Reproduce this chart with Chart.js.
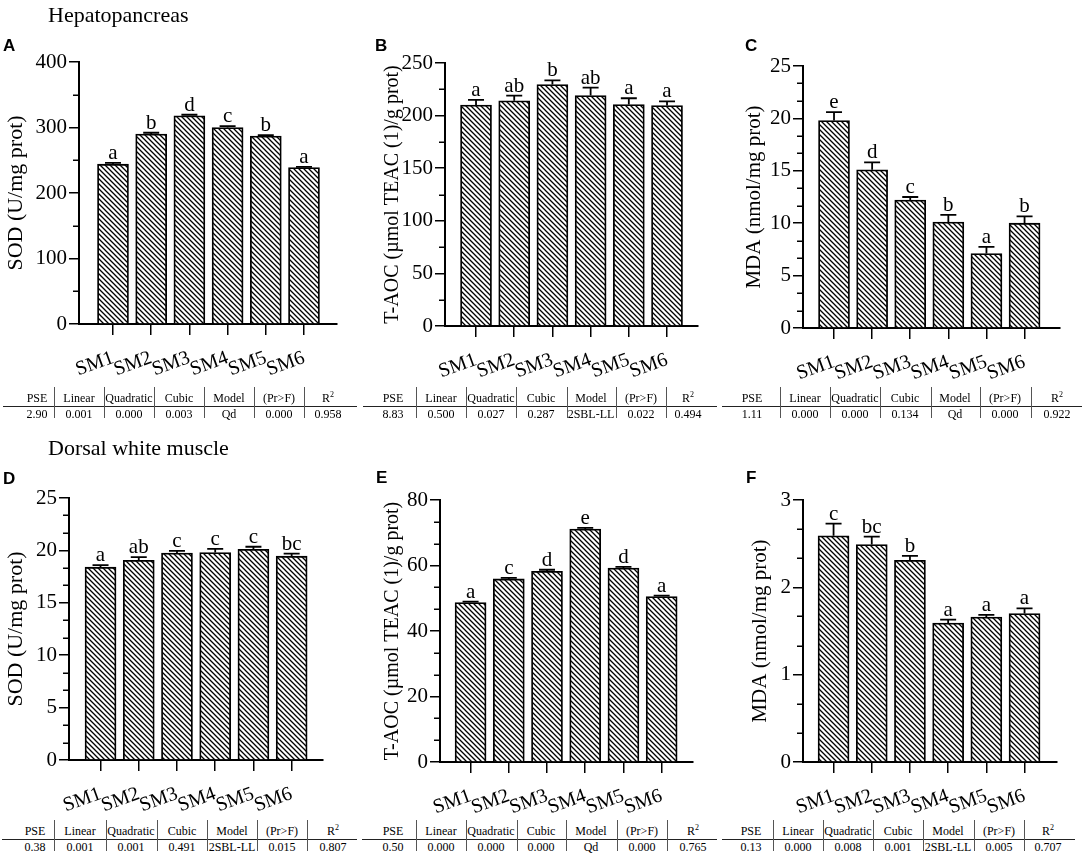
<!DOCTYPE html>
<html><head><meta charset="utf-8">
<script src="https://cdn.jsdelivr.net/npm/chart.js@4.4.1/dist/chart.umd.min.js"></script>
<style>
html,body{margin:0;padding:0;background:#fff;}
body{width:1084px;height:859px;position:relative;overflow:hidden;font-family:"Liberation Serif","Times New Roman",serif;color:#000;}
.lbl{position:absolute;font-family:"Liberation Sans",Arial,sans-serif;font-weight:bold;font-size:17px;line-height:17px;}
.sec{position:absolute;font-size:22px;line-height:22px;white-space:nowrap;}
.tt{position:absolute;font-size:12px;line-height:12px;transform:translate(-50%,-50%);white-space:nowrap;}
.tt sup{font-size:8px;line-height:0;vertical-align:5px;}
.hl{position:absolute;height:1px;background:#222;}
.vl{position:absolute;width:1px;background:#555;}
</style></head><body>
<script>
// ---------- DATA ----------
const categories = ['SM1','SM2','SM3','SM4','SM5','SM6'];

// A - Hepatopancreas SOD
const hepSOD = [244, 290, 318, 300, 287, 239];
const hepSODErr = [2, 2, 1.5, 2, 1.5, 1];
const hepSODLetters = ['a','b','d','c','b','a'];
const hepSODTicks = [0, 100, 200, 300, 400];

// B - Hepatopancreas T-AOC
const hepTAOC = [210, 214, 229.5, 219, 210.5, 209.5];
const hepTAOCErr = [5, 5, 4, 7.5, 6, 4];
const hepTAOCLetters = ['a','ab','b','ab','a','a'];
const hepTAOCTicks = [0, 50, 100, 150, 200, 250];

// C - Hepatopancreas MDA
const hepMDA = [19.8, 15.1, 12.2, 10.1, 7.1, 10.0];
const hepMDAErr = [0.8, 0.7, 0.3, 0.7, 0.65, 0.65];
const hepMDALetters = ['e','d','c','b','a','b'];
const hepMDATicks = [0, 5, 10, 15, 20, 25];

// D - Dorsal white muscle SOD
const musSOD = [18.4, 19.05, 19.75, 19.8, 20.1, 19.45];
const musSODErr = [0.2, 0.3, 0.2, 0.35, 0.25, 0.25];
const musSODLetters = ['a','ab','c','c','c','bc'];
const musSODTicks = [0, 5, 10, 15, 20, 25];

// E - Dorsal white muscle T-AOC
const musTAOC = [48.7, 55.9, 58.2, 71.1, 59.2, 50.5];
const musTAOCErr = [0.3, 0.3, 0.5, 0.4, 0.4, 0.3];
const musTAOCLetters = ['a','c','d','e','d','a'];
const musTAOCTicks = [0, 20, 40, 60, 80];

// F - Dorsal white muscle MDA
const musMDA = [2.59, 2.49, 2.31, 1.59, 1.66, 1.70];
const musMDAErr = [0.14, 0.09, 0.05, 0.04, 0.025, 0.06];
const musMDALetters = ['c','bc','b','a','a','a'];
const musMDATicks = [0, 1, 2, 3];

// statistics tables
const tableHeaders = ['PSE','Linear','Quadratic','Cubic','Model','(Pr>F)','R<sup>2</sup>'];
const statsA = ['2.90','0.001','0.000','0.003','Qd','0.000','0.958'];
const statsB = ['8.83','0.500','0.027','0.287','2SBL-LL','0.022','0.494'];
const statsC = ['1.11','0.000','0.000','0.134','Qd','0.000','0.922'];
const statsD = ['0.38','0.001','0.001','0.491','2SBL-LL','0.015','0.807'];
const statsE = ['0.50','0.000','0.000','0.000','Qd','0.000','0.765'];
const statsF = ['0.13','0.000','0.008','0.001','2SBL-LL','0.005','0.707'];

const titleSOD = 'SOD (U/mg prot)';
const titleTAOC = 'T-AOC (\u00B5mol TEAC (1)/g prot)';
const titleMDA = 'MDA (nmol/mg prot)';

// ---------- LAYOUT ----------
const panels = [
  {id:'A', x0:0,   y0:0,   w:360, h:385, area:[79,62,337,324],  xmin:0.11, xmax:6.864, values:hepSOD, err:hepSODErr, letters:hepSODLetters, ticks:hepSODTicks, minor:2, title:titleSOD, tpad:3, tsize:22},
  {id:'B', x0:360, y0:0,   w:360, h:385, area:[445,63,698,326], xmin:0.188, xmax:6.811, values:hepTAOC, err:hepTAOCErr, letters:hepTAOCLetters, ticks:hepTAOCTicks, minor:2, title:titleTAOC, tpad:21, tsize:20},
  {id:'C', x0:720, y0:0,   w:364, h:385, area:[803,66,1060,328], xmin:0.186, xmax:6.93, values:hepMDA, err:hepMDAErr, letters:hepMDALetters, ticks:hepMDATicks, minor:3, title:titleMDA, tpad:22, tsize:21},
  {id:'D', x0:0,   y0:430, w:360, h:388, area:[69,498,323,760],  xmin:0.175, xmax:6.82, values:musSOD, err:musSODErr, letters:musSODLetters, ticks:musSODTicks, minor:3, title:titleSOD, tpad:3, tsize:22},
  {id:'E', x0:360, y0:430, w:360, h:388, area:[440,500,693,762], xmin:0.2, xmax:6.82, values:musTAOC, err:musTAOCErr, letters:musTAOCLetters, ticks:musTAOCTicks, minor:3, title:titleTAOC, tpad:21, tsize:20},
  {id:'F', x0:720, y0:430, w:364, h:388, area:[803,500,1057,762], xmin:0.2, xmax:6.85, values:musMDA, err:musMDAErr, letters:musMDALetters, ticks:musMDATicks, minor:3, title:titleMDA, tpad:28, tsize:21}
];

const tables = [
  {stats:statsA, base:387, seps:[54,104,154,204,254,304], centers:[37,79,129,179,229,279,328], line:[3,357]},
  {stats:statsB, base:387, seps:[416,466,516,567,616,666], centers:[393,441,491,541,591,641,688], line:[363,717]},
  {stats:statsC, base:387, seps:[780,830,880,931,980,1031], centers:[752,805,855,905,955,1005,1057], line:[722,1082]},
  {stats:statsD, base:820, seps:[54,106,157,207,257,307], centers:[35,80,131,182,232,282,333], line:[2,357]},
  {stats:statsE, base:820, seps:[416,466,517,566,617,667], centers:[393,441,491,541,591,642,693], line:[362,717]},
  {stats:statsF, base:820, seps:[773,823,873,923,974,1024], centers:[751,798,848,898,948,999,1048], line:[722,1075]}
];

const SERIF = '"Liberation Serif","Times New Roman",serif';

// hatch tile
const TS = 5;
const tile = document.createElement('canvas');
tile.width = TS; tile.height = TS;
(function(){
  const g = tile.getContext('2d');
  g.fillStyle = '#fff'; g.fillRect(0,0,TS,TS);
  g.strokeStyle = '#000'; g.lineWidth = 1.3;
  g.beginPath();
  g.moveTo(-1,-1); g.lineTo(TS+1,TS+1);
  g.moveTo(-1,TS-1); g.lineTo(1,TS+1);
  g.moveTo(TS-1,-1); g.lineTo(TS+1,1);
  g.stroke();
})();

function makeExtras(cfg){
  return {
    id:'extras'+cfg.id,
    afterDatasetsDraw(chart){
      const ctx = chart.ctx, xs = chart.scales.x, ys = chart.scales.y, ca = chart.chartArea;
      ctx.save();
      // minor ticks
      ctx.strokeStyle = '#000'; ctx.lineWidth = 1.5;
      for (let k = 0; k < cfg.ticks.length - 1; k++) {
        const a = cfg.ticks[k], b = cfg.ticks[k+1];
        for (let m = 1; m < cfg.minor; m++) {
          const y = Math.round(ys.getPixelForValue(a + (b - a) * m / cfg.minor)) + 0.25;
          ctx.beginPath(); ctx.moveTo(ca.left - 6, y); ctx.lineTo(ca.left, y); ctx.stroke();
        }
      }
      // error bars and letters
      ctx.lineWidth = 1.8;
      ctx.fillStyle = '#000';
      ctx.font = '21px ' + SERIF;
      ctx.textAlign = 'center'; ctx.textBaseline = 'alphabetic';
      cfg.values.forEach((v, i) => {
        const x = xs.getPixelForValue(i + 1);
        const y0 = ys.getPixelForValue(v);
        const y1 = ys.getPixelForValue(v + cfg.err[i]);
        ctx.beginPath();
        ctx.moveTo(x, y0); ctx.lineTo(x, y1);
        ctx.moveTo(x - 8, y1); ctx.lineTo(x + 8, y1);
        ctx.stroke();
        ctx.fillText(cfg.letters[i], x, y1 - 4);
      });
      ctx.restore();
    }
  };
}

function panel(cfg){
  const cv = document.createElement('canvas');
  cv.width = cfg.w; cv.height = cfg.h;
  cv.style.cssText = 'position:absolute;left:'+cfg.x0+'px;top:'+cfg.y0+'px;width:'+cfg.w+'px;height:'+cfg.h+'px;';
  document.body.appendChild(cv);
  const ctx = cv.getContext('2d');
  const hatch = ctx.createPattern(tile, 'repeat');
  const L = cfg.area[0]-cfg.x0, T = cfg.area[1]-cfg.y0, R = cfg.area[2]-cfg.x0, B = cfg.area[3]-cfg.y0;
  new Chart(ctx, {
    type:'bar',
    data:{datasets:[{
      data: cfg.values.map((v,i)=>({x:i+1, y:v})),
      backgroundColor: hatch, borderColor:'#000', borderWidth:1.8, borderSkipped:'start',
      barThickness:31
    }]},
    options:{
      responsive:false, animation:false, devicePixelRatio:1,
      layout:{padding:{left:0, top:T, right:cfg.w-R, bottom:0}},
      plugins:{legend:{display:false}, tooltip:{enabled:false}},
      scales:{
        x:{
          type:'linear', min:cfg.xmin, max:cfg.xmax, offset:false,
          afterBuildTicks: s => { s.ticks = categories.map((c,i)=>({value:i+1})); },
          afterFit: s => { s.height = cfg.h - B; },
          grid:{display:true, drawOnChartArea:false, drawTicks:true, tickLength:11, color:'#000', lineWidth:1.5, offset:false},
          border:{display:true, color:'#000', width:2},
          ticks:{autoSkip:false, maxRotation:20, minRotation:20, padding:11, color:'#000',
                 font:{family:SERIF, size:20}, callback:(v)=>categories[Math.round(v)-1]}
        },
        y:{
          min:0, max:cfg.ticks[cfg.ticks.length-1],
          afterBuildTicks: s => { s.ticks = cfg.ticks.map(v=>({value:v})); },
          afterFit: s => { s.width = L; },
          grid:{drawOnChartArea:false, drawTicks:true, tickLength:10, color:'#000', lineWidth:1.5},
          border:{display:true, color:'#000', width:2},
          ticks:{padding:2, color:'#000', font:{family:SERIF, size:21}},
          title:{display:true, text:cfg.title, color:'#000', font:{family:SERIF, size:cfg.tsize}, padding:{top:cfg.tpad, bottom:0}}
        }
      }
    },
    plugins:[makeExtras(cfg)]
  });
}

panels.forEach(panel);

// section titles and panel letters
function addDiv(cls, html, left, top){
  const d = document.createElement('div');
  d.className = cls; d.innerHTML = html;
  d.style.left = left + 'px'; d.style.top = top + 'px';
  document.body.appendChild(d);
  return d;
}
addDiv('sec', 'Hepatopancreas', 48, 3.5);
addDiv('sec', 'Dorsal white muscle', 48, 436.5);
[['A',3,37],['B',375,37],['C',745,37],['D',3,470],['E',376,469],['F',746,469]].forEach(p=>addDiv('lbl', p[0], p[1], p[2]));

// tables
tables.forEach(t => {
  const hl = document.createElement('div');
  hl.className = 'hl';
  hl.style.left = t.line[0] + 'px'; hl.style.width = (t.line[1]-t.line[0]) + 'px'; hl.style.top = (t.base + 19) + 'px';
  document.body.appendChild(hl);
  t.seps.forEach(x => {
    const v = document.createElement('div');
    v.className = 'vl';
    v.style.left = x + 'px'; v.style.top = t.base + 'px'; v.style.height = '31px';
    document.body.appendChild(v);
  });
  tableHeaders.forEach((h, i) => addDiv('tt', h, t.centers[i], t.base + 11));
  t.stats.forEach((s, i) => addDiv('tt', s, t.centers[i], t.base + 26.5));
});
</script>
</body></html>
